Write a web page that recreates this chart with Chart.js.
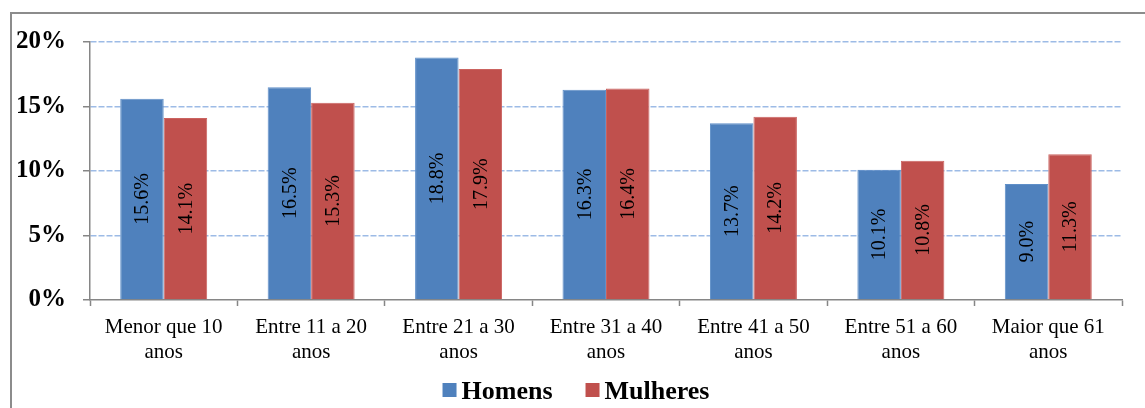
<!DOCTYPE html>
<html>
<head>
<meta charset="utf-8">
<script src="https://cdn.jsdelivr.net/npm/chart.js@4.4.1/dist/chart.umd.min.js"></script>
<style>
  body { margin: 0; background: #fff; }
  #wrap { width: 1145px; height: 408px; position: relative; }
</style>
</head>
<body>
<div id="wrap"><canvas id="myChart"></canvas></div>
<script>
// faixas etarias
var categorias = [
    ["Menor que 10", "anos"],
    ["Entre 11 a 20", "anos"],
    ["Entre 21 a 30", "anos"],
    ["Entre 31 a 40", "anos"],
    ["Entre 41 a 50", "anos"],
    ["Entre 51 a 60", "anos"],
    ["Maior que 61", "anos"]
];
var homens = [15.6, 16.5, 18.8, 16.3, 13.7, 10.1, 9.0];
var mulheres = [14.1, 15.3, 17.9, 16.4, 14.2, 10.8, 11.3];
var ticksY = [0, 5, 10, 15, 20];

var serif = "'Liberation Serif', 'Times New Roman', serif";

// moldura cinza do grafico
var moldura = {
    id: "moldura",
    beforeDraw: function (chart) {
        var ctx = chart.ctx;
        ctx.save();
        ctx.strokeStyle = "#8c8c8c";
        ctx.lineWidth = 2;
        ctx.strokeRect(11, 13, 2000, 2000);
        ctx.restore();
    }
};

// rotulos verticais dentro das barras
var rotulos = {
    id: "rotulos",
    afterDatasetsDraw: function (chart) {
        var ctx = chart.ctx;
        ctx.save();
        ctx.font = "20px " + serif;
        ctx.fillStyle = "#000";
        ctx.textAlign = "center";
        ctx.textBaseline = "middle";
        chart.data.datasets.forEach(function (ds, i) {
            chart.getDatasetMeta(i).data.forEach(function (bar, j) {
                var yc = (bar.y + bar.base) / 2;
                ctx.save();
                ctx.translate(bar.x, yc);
                ctx.rotate(-Math.PI / 2);
                ctx.fillText(ds.data[j].toFixed(1) + "%", 0, 1);
                ctx.restore();
            });
        });
        ctx.restore();
    }
};

// legenda embaixo, desenhada a partir dos datasets
var legenda = {
    id: "legenda",
    afterDraw: function (chart) {
        var ctx = chart.ctx;
        var ds = chart.data.datasets;
        ctx.save();
        ctx.font = "bold 26px " + serif;
        ctx.textBaseline = "middle";
        ctx.textAlign = "left";
        var box = 14, gapTxt = 5, gapItem = 33;
        var total = 0;
        ds.forEach(function (d, i) {
            total += box + gapTxt + ctx.measureText(d.label).width;
            if (i < ds.length - 1) total += gapItem;
        });
        var x = 576 - total / 2;
        var y = 391;
        ds.forEach(function (d) {
            ctx.fillStyle = d.backgroundColor;
            ctx.fillRect(x, y - 8, box, box);
            x += box + gapTxt;
            ctx.fillStyle = "#000";
            ctx.fillText(d.label, x, y + 1);
            x += ctx.measureText(d.label).width + gapItem;
        });
        ctx.restore();
    }
};

var ctx = document.getElementById("myChart").getContext("2d");
var myChart = new Chart(ctx, {
    type: "bar",
    data: {
        labels: categorias,
        datasets: [
            {
                label: "Homens",
                data: homens,
                backgroundColor: "#4f81bd",
                borderColor: "#5f8fc8",
                borderWidth: 1,
                categoryPercentage: 0.59,
                barPercentage: 1.0
            },
            {
                label: "Mulheres",
                data: mulheres,
                backgroundColor: "#c0504d",
                borderColor: "#cb6360",
                borderWidth: 1,
                categoryPercentage: 0.59,
                barPercentage: 1.0
            }
        ]
    },
    options: {
        responsive: true,
        maintainAspectRatio: false,
        animation: false,
        layout: {
            padding: { left: 0, right: 23, top: 42, bottom: 33 }
        },
        scales: {
            x: {
                grid: {
                    offset: true,
                    drawOnChartArea: false,
                    tickLength: 6,
                    tickColor: "#868686",
                    tickWidth: 1.5
                },
                border: { color: "#868686", width: 1.5 },
                ticks: {
                    color: "#000",
                    padding: 9,
                    maxRotation: 0,
                    autoSkip: false,
                    font: { family: serif, size: 21, lineHeight: 1.2 }
                },
                afterFit: function (scale) {
                    scale.height = 75;
                }
            },
            y: {
                min: 0,
                max: 20,
                afterBuildTicks: function (scale) {
                    scale.ticks = ticksY.map(function (v) { return { value: v }; });
                },
                grid: {
                    color: function (c) {
                        return c.tick && c.tick.value === 0 ? "rgba(0,0,0,0)" : "#9dbbe6";
                    },
                    lineWidth: 1.5,
                    tickLength: 7,
                    tickColor: "#868686",
                    tickWidth: 1.5,
                    tickBorderDash: []
                },
                border: { color: "#868686", width: 1.5, dash: [6, 2] },
                ticks: {
                    color: "#000",
                    padding: 17,
                    font: { family: serif, size: 25, weight: "bold" },
                    callback: function (v) { return v + "%"; }
                },
                afterFit: function (scale) {
                    scale.width = 90;
                }
            }
        },
        plugins: {
            legend: { display: false },
            tooltip: { enabled: false },
            title: { display: false }
        }
    },
    plugins: [moldura, rotulos, legenda]
});
</script>
</body>
</html>
